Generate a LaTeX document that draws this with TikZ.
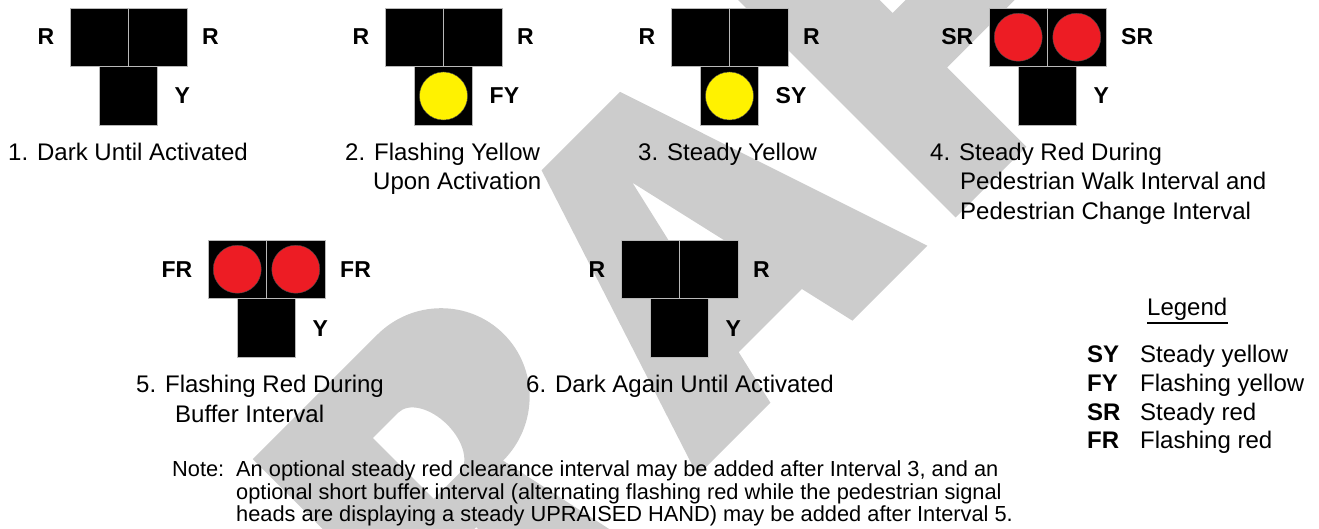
\documentclass[tikz,border=0pt]{standalone}
\usepackage{fontspec}
\setmainfont{Liberation Sans}
\definecolor{wmgray}{HTML}{CCCCCC}
\definecolor{sigyellow}{HTML}{FFF200}
\definecolor{sigred}{HTML}{ED1C24}
\begin{document}
\begin{tikzpicture}[x=1pt,y=-1pt,
  head/.style={draw=gray!55, line width=0.8pt, fill=black, minimum size=58.5pt, inner sep=0pt, outer sep=0pt},
  ylamp/.style={circle, fill=sigyellow, draw=black!70, line width=0.4pt, minimum size=48pt, inner sep=0pt},
  rlamp/.style={circle, fill=sigred, draw=black!70, line width=0.4pt, minimum size=48pt, inner sep=0pt},
  lab/.style={font=\fontsize{23}{23}\selectfont\bfseries, inner sep=0pt},
  captxt/.style={font=\fontsize{24}{24}\selectfont, anchor=base west, inner sep=0pt},
  notetxt/.style={font=\fontsize{21.8}{22}\selectfont, anchor=base west, inner sep=0pt},
  legabbr/.style={font=\fontsize{24}{24}\selectfont\bfseries, anchor=base west, inner sep=0pt},
  wmshape/.style={fill=wmgray, even odd rule}
]
\useasboundingbox (0,0) rectangle (1319,529);
% ---- watermark letters (drawn in rotated letter coordinates)
\begin{scope}
\clip (0,0) rectangle (1319,529);
\begin{scope}[shift={(586.5,586.5)}, x=1pt, y=1pt, rotate=45]
  % R
  \fill[wmshape] (-146,0) -- (-146,326) -- (30,326)
      arc[start angle=90, end angle=-90, x radius=90, y radius=89]
      -- (62,0) -- (-35,0) -- (-36,120) -- (-46,120) -- (-46,0) -- cycle
      (-46,256) -- (-10,256) arc[start angle=90, end angle=-90, x radius=26, y radius=43]
      -- (-46,170) -- cycle;
  % A
  \fill[wmshape] (157,0) -- (262.5,326) -- (373.5,326) -- (482,0) -- (376,0)
      -- (362.7,58) -- (273.3,58) -- (260,0) -- cycle
      (289.8,130) -- (318,253) -- (346.2,130) -- cycle;
  % F
  \fill[wmshape] (522,0) -- (522,326) -- (860,326) -- (860,262) -- (622,262)
      -- (622,189) -- (800,189) -- (800,112) -- (622,112) -- (622,0) -- cycle;
\end{scope}
\end{scope}

% ---- Signal 1 (X=70, Y=8)
\node[head] (s1l) at (99.25,37.25) {};
\node[head] (s1r) at (157.75,37.25) {};
\node[head] (s1b) at (128.5,96) {};
\node[lab, anchor=base east] (s1tl) at (54.5,45) {R};
\node[lab, anchor=base west] (s1tr) at (202,45) {R};
\node[lab, anchor=base west] (s1tb) at (174.5,104) {Y};
\node[captxt] (cap1) at (8,161) {1. Dark Until Activated};

% ---- Signal 2 (X=385)
\node[head] (s2l) at (414.25,37.25) {};
\node[head] (s2r) at (472.75,37.25) {};
\node[head] (s2b) at (443.5,96) {};
\node[ylamp] (s2y) at (s2b) {};
\node[lab, anchor=base east] (s2tl) at (369.5,45) {R};
\node[lab, anchor=base west] (s2tr) at (517,45) {R};
\node[lab, anchor=base west] (s2tb) at (489.5,104) {FY};
\node[captxt] (cap2a) at (345,161) {2. Flashing Yellow};
\node[captxt] (cap2b) at (373,190) {Upon Activation};

% ---- Signal 3 (X=671)
\node[head] (s3l) at (700.25,37.25) {};
\node[head] (s3r) at (758.75,37.25) {};
\node[head] (s3b) at (729.5,96) {};
\node[ylamp] (s3y) at (s3b) {};
\node[lab, anchor=base east] (s3tl) at (655.5,45) {R};
\node[lab, anchor=base west] (s3tr) at (803,45) {R};
\node[lab, anchor=base west] (s3tb) at (775.5,104) {SY};
\node[captxt] (cap3) at (638,161) {3. Steady Yellow};

% ---- Signal 4 (X=989)
\node[head] (s4l) at (1018.25,37.25) {};
\node[head] (s4r) at (1076.75,37.25) {};
\node[head] (s4b) at (1047.5,96) {};
\node[rlamp] (s4rl) at (s4l) {};
\node[rlamp] (s4rr) at (s4r) {};
\node[lab, anchor=base east] (s4tl) at (973.5,45) {SR};
\node[lab, anchor=base west] (s4tr) at (1121,45) {SR};
\node[lab, anchor=base west] (s4tb) at (1093.5,104) {Y};
\node[captxt] (cap4a) at (930,161) {4. Steady Red During};
\node[captxt] (cap4b) at (960,190) {Pedestrian Walk Interval and};
\node[captxt] (cap4c) at (960,220) {Pedestrian Change Interval};

% ---- Signal 5 (X=208, Y=240)
\node[head] (s5l) at (237.25,269.25) {};
\node[head] (s5r) at (295.75,269.25) {};
\node[head] (s5b) at (266.5,328) {};
\node[rlamp] (s5rl) at (s5l) {};
\node[rlamp] (s5rr) at (s5r) {};
\node[lab, anchor=base east] (s5tl) at (192.5,277) {FR};
\node[lab, anchor=base west] (s5tr) at (340,277) {FR};
\node[lab, anchor=base west] (s5tb) at (312.5,336) {Y};
\node[captxt] (cap5a) at (136,392) {5. Flashing Red During};
\node[captxt] (cap5b) at (175,422) {Buffer Interval};

% ---- Signal 6 (X=621, Y=240)
\node[head] (s6l) at (650.25,269.25) {};
\node[head] (s6r) at (708.75,269.25) {};
\node[head] (s6b) at (679.5,328) {};
\node[lab, anchor=base east] (s6tl) at (605.5,277) {R};
\node[lab, anchor=base west] (s6tr) at (753,277) {R};
\node[lab, anchor=base west] (s6tb) at (725.5,336) {Y};
\node[captxt] (cap6) at (526,392) {6. Dark Again Until Activated};

% ---- Legend
\node[captxt] (legt) at (1147,315) {Legend};
\draw[line width=2pt] (legt.base west) ++(0,8) coordinate (ul1) -- (ul1 -| legt.east);
\node[legabbr] (lsy) at (1087,362) {SY};
\node[captxt] (lsyt) at (1140,362) {Steady yellow};
\node[legabbr] (lfy) at (1087,391) {FY};
\node[captxt] (lfyt) at (1140,391) {Flashing yellow};
\node[legabbr] (lsr) at (1087,420) {SR};
\node[captxt] (lsrt) at (1140,420) {Steady red};
\node[legabbr] (lfr) at (1087,448) {FR};
\node[captxt] (lfrt) at (1140,448) {Flashing red};

% ---- Note
\node[notetxt] (notel) at (172,476) {Note:};
\node[notetxt] (note1) at (236,476) {An optional steady red clearance interval may be added after Interval 3, and an};
\node[notetxt] (note2) at (236,499) {optional short buffer interval (alternating flashing red while the pedestrian signal};
\node[notetxt] (note3) at (236,521) {heads are displaying a steady UPRAISED HAND) may be added after Interval 5.};
\end{tikzpicture}
\end{document}
